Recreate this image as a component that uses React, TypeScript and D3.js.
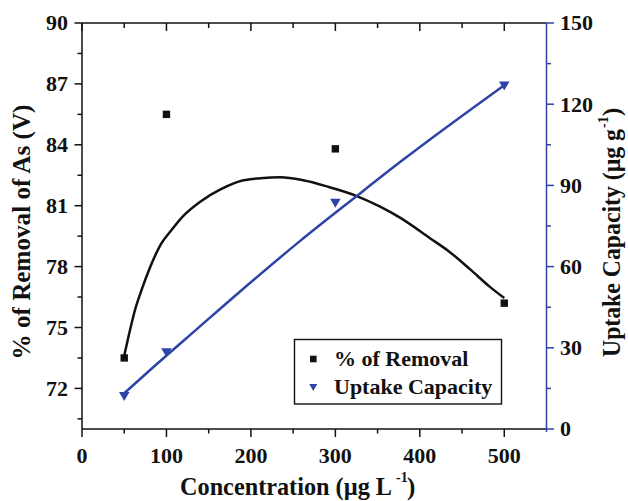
import React from "react";
import * as d3 from "d3";

// Measured points
const concentration = [50, 100, 300, 500];
const removalPct = [73.5, 85.5, 83.8, 76.2];
const uptakeCapacity = [12.0, 28.2, 83.4, 126.7];

// Fitted curves, sampled along concentration
const removalFitX = [50, 57, 63, 71, 81, 92, 106, 120, 140, 164, 191, 211, 235, 262, 290, 324, 353, 377, 412, 436, 460, 483, 500];
const removalFitY = [73.6, 74.9, 75.9, 76.9, 78.0, 79.0, 79.8, 80.5, 81.2, 81.8, 82.25, 82.35, 82.4, 82.25, 81.95, 81.5, 80.95, 80.4, 79.4, 78.7, 77.85, 77.0, 76.45];
const uptakeFitX = [50, 81, 136, 201, 258, 325, 377, 500];
const uptakeFitY = [13.2, 21.9, 36.9, 54.5, 69.4, 86.0, 98.7, 127.0];

// Axis ticks
const xTicks = [0, 100, 200, 300, 400, 500];
const xMinor = [50, 150, 250, 350, 450];
const leftTicks = [72, 75, 78, 81, 84, 87, 90];
const leftMinor = [70.5, 73.5, 76.5, 79.5, 82.5, 85.5, 88.5];
const rightTicks = [0, 30, 60, 90, 120, 150];
const rightMinor = [15, 45, 75, 105, 135];

const legendLabels = ["% of Removal", "Uptake Capacity"];

const BLUE = "#2d44a6";
const FONT = "Times New Roman";

const W = 628;
const H = 501;
const L = 82;
const R = 546.5;
const T = 23;
const B = 429;

function downTriangle(w: number, h: number) {
  return `M${-w / 2},${-h / 2}L${w / 2},${-h / 2}L0,${h / 2}Z`;
}

export default function App() {
  const x = d3.scaleLinear().domain([0, 550]).range([L, R]);
  const yL = d3.scaleLinear().domain([70, 90]).range([B, T]);
  const yR = d3.scaleLinear().domain([0, 150]).range([B, T]);

  const removalLine = d3
    .line<number>()
    .x((_, i) => x(removalFitX[i]))
    .y((d) => yL(d))
    .curve(d3.curveMonotoneX);
  const uptakeLine = d3
    .line<number>()
    .x((_, i) => x(uptakeFitX[i]))
    .y((d) => yR(d))
    .curve(d3.curveMonotoneX);

  const tickStyle = { fontFamily: FONT, fontWeight: 700, fontSize: "22px" };
  const titleStyle = { fontFamily: FONT, fontWeight: 700, fontSize: "25px" };
  const supStyle = { fontFamily: FONT, fontWeight: 700, fontSize: "14px" };
  const legendStyle = { fontFamily: FONT, fontWeight: 700, fontSize: "22px" };

  return (
    <svg
      width={W}
      height={H}
      viewBox={`0 0 ${W} ${H}`}
      style={{ position: "absolute", left: 0, top: 0, background: "#fff" }}
    >
      <rect x={0} y={0} width={W} height={H} fill="#fff" />

      {/* fitted curves */}
      <path d={removalLine(removalFitY) || ""} fill="none" stroke="#111" strokeWidth={2.5} />
      <path d={uptakeLine(uptakeFitY) || ""} fill="none" stroke={BLUE} strokeWidth={2.5} />

      {/* data markers */}
      {concentration.map((c, i) => (
        <rect
          key={`s${c}`}
          x={x(c) - 3.7}
          y={yL(removalPct[i]) - 3.7}
          width={7.4}
          height={7.4}
          fill="#111"
        />
      ))}
      {concentration.map((c, i) => (
        <path
          key={`t${c}`}
          d={downTriangle(10.5, 9)}
          transform={`translate(${x(c)},${yR(uptakeCapacity[i])})`}
          fill={BLUE}
        />
      ))}

      {/* frame: left, top, bottom in black */}
      <line x1={L} x2={L} y1={T} y2={B} stroke="#111" strokeWidth={1.5} />
      <line x1={L} x2={R} y1={T} y2={T} stroke="#111" strokeWidth={1.5} />
      <line x1={L} x2={R} y1={B} y2={B} stroke="#111" strokeWidth={1.5} />

      {/* bottom axis */}
      {xTicks.map((t) => (
        <g key={`xb${t}`}>
          <line x1={x(t)} x2={x(t)} y1={B} y2={B + 8} stroke="#111" strokeWidth={1.5} />
          <line x1={x(t)} x2={x(t)} y1={T} y2={T + 8} stroke="#111" strokeWidth={1.5} />
          <text x={x(t)} y={463} textAnchor="middle" style={tickStyle} fill="#111">
            {t}
          </text>
        </g>
      ))}
      {xMinor.map((t) => (
        <g key={`xm${t}`}>
          <line x1={x(t)} x2={x(t)} y1={B} y2={B + 4.5} stroke="#111" strokeWidth={1.5} />
          <line x1={x(t)} x2={x(t)} y1={T} y2={T + 5} stroke="#111" strokeWidth={1.5} />
        </g>
      ))}

      {/* left axis */}
      {leftTicks.map((t) => (
        <g key={`yl${t}`}>
          <line x1={L - 7.5} x2={L} y1={yL(t)} y2={yL(t)} stroke="#111" strokeWidth={1.5} />
          <text x={68} y={yL(t)} dy="0.34em" textAnchor="end" style={tickStyle} fill="#111">
            {t}
          </text>
        </g>
      ))}
      {leftMinor.map((t) => (
        <line key={`ylm${t}`} x1={L - 4.5} x2={L} y1={yL(t)} y2={yL(t)} stroke="#111" strokeWidth={1.5} />
      ))}

      {/* right axis in blue */}
      <line x1={R} x2={R} y1={T} y2={B + 3} stroke={BLUE} strokeWidth={1.5} />
      {rightTicks.map((t) => (
        <g key={`yr${t}`}>
          <line x1={R} x2={R + 7.5} y1={yR(t)} y2={yR(t)} stroke={BLUE} strokeWidth={1.5} />
          <text x={560} y={yR(t)} dy="0.34em" textAnchor="start" style={tickStyle} fill="#111">
            {t}
          </text>
        </g>
      ))}
      {rightMinor.map((t) => (
        <line key={`yrm${t}`} x1={R} x2={R + 4.5} y1={yR(t)} y2={yR(t)} stroke={BLUE} strokeWidth={1.5} />
      ))}

      {/* x-axis title: main text, superscript and closing bracket */}
      <text x={180} y={495} style={titleStyle} fill="#111" textLength={212} lengthAdjust="spacingAndGlyphs">
        Concentration (µg L
      </text>
      <text x={396} y={482} style={supStyle} fill="#111">
        -1
      </text>
      <text x={407} y={495} style={titleStyle} fill="#111">
        )
      </text>

      {/* left y-axis title */}
      <text
        transform={`translate(30,232) rotate(-90)`}
        textAnchor="middle"
        style={titleStyle}
        fill="#111"
        textLength={255}
        lengthAdjust="spacingAndGlyphs"
      >
        % of Removal of As (V)
      </text>

      {/* right y-axis title, reading bottom to top */}
      <g transform="translate(620,357) rotate(-90)">
        <text x={0} y={0} style={titleStyle} fill="#111" textLength={228} lengthAdjust="spacingAndGlyphs">
          Uptake Capacity (µg g
        </text>
        <text x={229} y={-12} style={supStyle} fill="#111">
          -1
        </text>
        <text x={241} y={0} style={titleStyle} fill="#111">
          )
        </text>
      </g>

      {/* legend */}
      <rect x={294.5} y={339.5} width={207} height={64.5} fill="#fff" stroke="#111" strokeWidth={1.4} />
      <rect x={313.3 - 3.3} y={359 - 3.3} width={6.6} height={6.6} fill="#111" />
      <path d={downTriangle(8, 7)} transform="translate(313.3,387.5)" fill={BLUE} />
      <text x={334} y={366} style={legendStyle} fill="#111">
        {legendLabels[0]}
      </text>
      <text x={334} y={394} style={legendStyle} fill="#111">
        {legendLabels[1]}
      </text>
    </svg>
  );
}
